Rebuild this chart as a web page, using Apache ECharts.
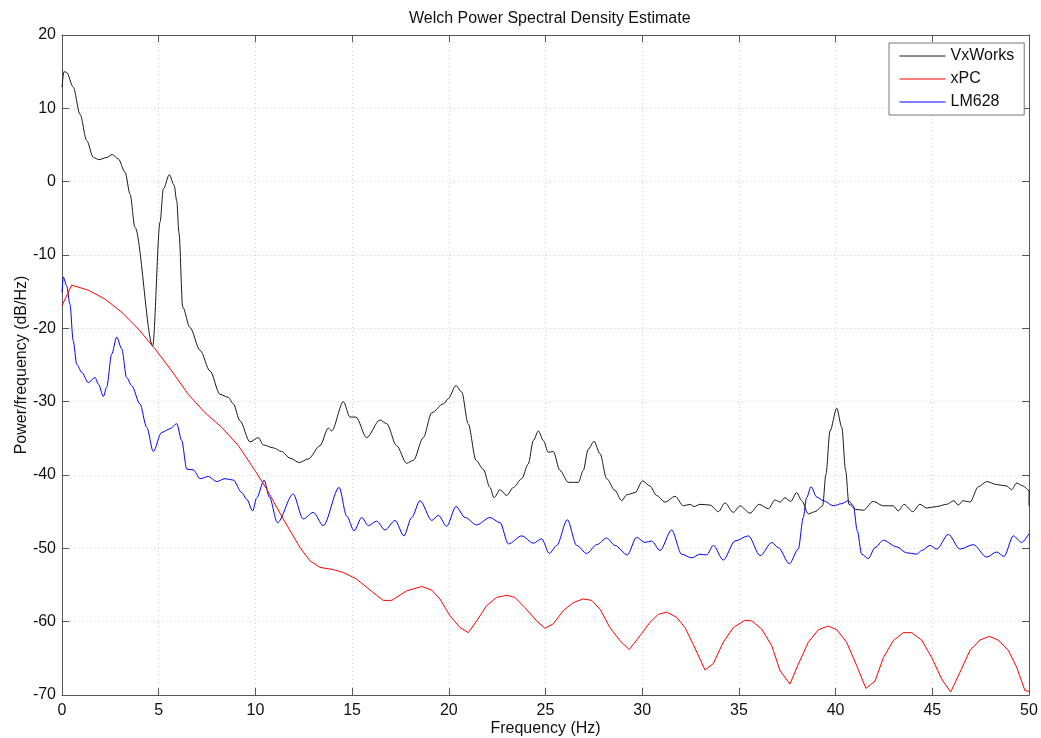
<!DOCTYPE html>
<html>
<head>
<meta charset="utf-8">
<title>Welch Power Spectral Density Estimate</title>
<script src="https://cdn.jsdelivr.net/npm/echarts@6/dist/echarts.min.js"></script>
<style>
  html, body { margin: 0; padding: 0; background: #ffffff; }
  #chart { width: 1041px; height: 738px; }
</style>
</head>
<body>
<div id="chart"></div>
<script>
// Welch PSD estimates (dB/Hz) for three controllers, sampled at the curve's turning points
const vxFreq = [0, 0.1, 0.24, 0.58, 0.93, 1.28, 1.62, 1.91, 2.31, 2.6, 2.91, 3.26, 3.52, 3.77, 4.69, 5.07, 5.24, 5.55, 5.8, 5.93, 6.05, 6.24, 6.62, 7.14, 7.65, 8.17, 8.6, 8.86, 9.2, 9.72, 10.15, 10.41, 10.93, 11.36, 11.79, 12.27, 12.74, 13.34, 13.77, 13.94, 14.55, 14.89, 15.2, 15.75, 16.44, 16.79, 17.3, 17.82, 18.17, 18.68, 19.12, 19.72, 19.97, 20.37, 20.67, 21.0, 21.41, 21.78, 22.13, 22.34, 22.65, 22.99, 23.34, 23.77, 24.11, 24.37, 24.63, 24.89, 25.14, 25.4, 25.75, 26.18, 26.7, 26.95, 27.21, 27.51, 27.82, 28.16, 28.59, 28.94, 29.2, 29.63, 30.02, 30.4, 30.75, 31.18, 31.7, 32.13, 32.47, 32.68, 32.99, 33.51, 33.94, 34.28, 34.71, 35.06, 35.57, 36.05, 36.52, 36.87, 37.13, 37.38, 37.68, 37.99, 38.25, 38.59, 38.94, 39.33, 39.5, 39.71, 40.06, 40.32, 40.52, 40.69, 41.05, 41.43, 41.95, 42.47, 42.98, 43.24, 43.54, 43.99, 44.36, 44.71, 45.23, 45.74, 46.12, 46.34, 46.6, 46.95, 47.38, 47.81, 48.33, 48.85, 49.1, 49.36, 49.7, 50, 50];
const vxPsd = [12.9, 15.0, 14.9, 12.9, 9.2, 5.6, 3.3, 3.0, 3.3, 3.7, 3.1, 1.3, -1.7, -6.2, -22.4, -5.5, -1.0, 0.95, -0.5, -2.6, -7.0, -17.1, -19.9, -23.0, -25.8, -29.0, -29.4, -30.3, -32.6, -35.5, -34.9, -35.9, -36.3, -36.8, -37.7, -38.3, -37.8, -36.0, -33.6, -34.0, -30.0, -32.1, -32.1, -34.9, -32.5, -33.0, -36.0, -38.4, -38.0, -34.9, -31.5, -30.3, -29.6, -27.8, -28.7, -33.0, -38.0, -39.2, -41.7, -43.1, -42.0, -42.8, -41.7, -40.5, -38.5, -35.3, -34.0, -35.3, -36.9, -36.8, -39.4, -41.0, -41.0, -39.4, -36.5, -35.4, -37.1, -40.5, -42.1, -43.5, -42.7, -42.4, -40.8, -41.5, -42.8, -43.7, -42.9, -44.2, -44.0, -44.3, -44.0, -44.1, -45.0, -43.8, -45.1, -44.2, -45.2, -44.0, -44.6, -43.4, -43.7, -43.1, -43.6, -42.4, -43.5, -45.3, -45.0, -44.2, -39.9, -34.0, -30.9, -33.5, -39.4, -44.0, -44.7, -44.8, -43.6, -44.2, -44.2, -44.9, -44.0, -45.0, -44.0, -44.5, -44.3, -44.0, -43.5, -44.1, -43.5, -43.7, -41.6, -40.9, -41.3, -41.5, -42.0, -41.1, -41.5, -42.1, -44.2];

const xpcFreq = [0, 0.5, 1.36, 2.22, 3.09, 3.95, 4.81, 5.67, 6.53, 7.39, 8.26, 9.12, 9.98, 10.58, 11.44, 12.31, 12.82, 13.34, 14.03, 14.55, 15.24, 15.93, 16.61, 17.05, 17.82, 18.6, 19.12, 19.54, 20.06, 20.58, 21.01, 21.44, 21.96, 22.47, 22.99, 23.42, 23.94, 24.54, 24.97, 25.4, 25.92, 26.44, 26.95, 27.39, 27.82, 28.33, 28.85, 29.33, 29.89, 30.4, 30.83, 31.27, 31.78, 32.21, 32.64, 33.25, 33.68, 34.19, 34.71, 35.32, 35.66, 36.18, 36.7, 37.13, 37.64, 38.07, 38.59, 39.11, 39.62, 40.06, 40.57, 41.09, 41.57, 42.04, 42.47, 42.98, 43.5, 43.93, 44.45, 44.97, 45.48, 45.95, 46.43, 46.95, 47.47, 47.95, 48.41, 48.93, 49.36, 49.79, 50];
const xpcPsd = [-16.9, -14.1, -14.8, -16.0, -17.8, -20.1, -22.8, -25.8, -29.0, -31.5, -33.5, -36.0, -39.4, -41.9, -46.0, -49.9, -51.7, -52.6, -52.9, -53.3, -54.2, -55.7, -57.1, -57.1, -55.8, -55.2, -55.7, -56.9, -59.2, -60.8, -61.5, -59.9, -57.8, -56.7, -56.4, -56.7, -58.1, -59.9, -60.9, -60.3, -58.5, -57.4, -56.9, -57.1, -58.3, -60.8, -62.6, -63.8, -61.9, -60.1, -59.0, -58.7, -59.4, -60.8, -63.1, -66.6, -65.7, -62.8, -60.8, -59.8, -59.9, -61.0, -63.3, -66.7, -68.5, -65.8, -62.8, -61.1, -60.6, -61.1, -62.8, -66.0, -69.1, -68.1, -64.9, -62.6, -61.5, -61.5, -62.5, -64.9, -67.8, -69.6, -66.9, -63.9, -62.5, -62.0, -62.5, -63.9, -66.2, -69.4, -69.5];

const lmFreq = [0, 0.07, 0.24, 0.41, 0.58, 0.76, 1.02, 1.36, 1.71, 1.88, 2.14, 2.31, 2.57, 2.83, 3.09, 3.34, 3.6, 4.03, 4.38, 4.72, 5.15, 5.58, 5.93, 6.19, 6.45, 6.79, 7.14, 7.57, 8.0, 8.43, 8.86, 9.29, 9.55, 9.86, 10.07, 10.45, 10.72, 11.14, 11.95, 12.47, 12.99, 13.51, 14.33, 14.72, 15.1, 15.5, 15.84, 16.27, 16.7, 17.22, 17.68, 18.08, 18.51, 19.12, 19.46, 19.89, 20.37, 20.84, 21.44, 22.13, 22.65, 23.08, 23.77, 24.37, 24.8, 25.2, 25.58, 26.13, 26.61, 27.13, 27.65, 28.16, 28.59, 29.23, 29.71, 30.14, 30.49, 30.92, 31.52, 32.04, 32.56, 32.99, 33.33, 33.68, 34.19, 34.8, 35.49, 36.1, 36.7, 37.04, 37.61, 38.07, 38.33, 38.5, 38.73, 39.02, 39.37, 39.88, 40.32, 40.66, 40.92, 41.12, 41.35, 41.69, 42.04, 42.47, 43.16, 43.67, 44.19, 44.45, 44.88, 45.23, 45.83, 46.43, 47.12, 47.81, 48.33, 48.71, 49.19, 49.62, 50];
const lmPsd = [-15.1, -13.0, -14.2, -16.7, -21.7, -24.9, -26.0, -27.4, -26.7, -27.6, -29.3, -28.0, -23.5, -21.2, -22.8, -26.7, -27.8, -30.3, -33.5, -36.8, -34.2, -33.7, -33.0, -35.3, -39.2, -39.3, -40.5, -40.2, -40.9, -40.5, -40.7, -42.4, -43.3, -44.9, -43.1, -40.7, -43.0, -46.5, -42.6, -46.0, -45.1, -46.9, -41.7, -45.6, -47.6, -45.8, -46.9, -46.3, -47.5, -46.2, -48.3, -45.8, -43.5, -46.2, -45.5, -47.0, -44.3, -45.8, -46.8, -45.8, -46.5, -49.4, -48.3, -49.3, -48.7, -50.7, -49.6, -46.1, -49.6, -50.7, -49.5, -48.6, -49.6, -50.9, -48.5, -49.2, -49.0, -50.3, -47.5, -50.8, -51.3, -50.8, -50.9, -49.6, -51.6, -49.0, -48.3, -51.0, -49.2, -49.9, -52.1, -50.1, -45.8, -43.1, -41.6, -43.0, -43.5, -44.2, -43.9, -43.5, -44.2, -47.6, -50.8, -51.4, -49.9, -48.9, -49.8, -50.6, -50.8, -50.3, -49.6, -50.1, -48.1, -50.1, -49.5, -51.2, -50.5, -51.1, -48.3, -49.2, -48.0];

const seriesNames = ['VxWorks', 'xPC', 'LM628'];
const seriesColors = ['#1a1a1a', '#ff0000', '#0000ff'];

const zip = (xs, ys) => xs.map((x, i) => [x, ys[i]]);

const FONT = '"Liberation Sans", Arial, Helvetica, sans-serif';
const axisGray = '#555555';
const gridDots = { show: true, lineStyle: { color: '#d2d2d2', type: [1, 3], width: 1 } };

const chart = echarts.init(document.getElementById('chart'), null, { renderer: 'canvas' });

const xBase = {
  type: 'value', min: 0, max: 50, interval: 5,
  axisLine: { show: true, onZero: false, lineStyle: { color: axisGray, width: 1 } },
  axisTick: { show: true, inside: true, length: 7, lineStyle: { color: axisGray } }
};
const yBase = {
  type: 'value', min: -70, max: 20, interval: 10,
  axisLine: { show: true, onZero: false, lineStyle: { color: axisGray, width: 1 } },
  axisTick: { show: true, inside: true, length: 7, lineStyle: { color: axisGray } }
};

chart.setOption({
  animation: false,
  backgroundColor: '#ffffff',
  textStyle: { fontFamily: FONT },
  title: {
    text: 'Welch Power Spectral Density Estimate',
    // centred over the plot box rather than the canvas
    left: 404,
    top: 6,
    textStyle: { fontFamily: FONT, fontSize: 16, fontWeight: 'normal', color: '#111' }
  },
  grid: { left: 62, right: 12, top: 35, bottom: 43, containLabel: false, outerBoundsMode: 'none' },
  legend: {
    orient: 'vertical',
    left: 889,
    top: 43,
    padding: [5, 10, 5, 10],
    itemWidth: 46,
    itemHeight: 14,
    itemGap: 7,
    // plain thin line samples, no marker on top
    itemStyle: { opacity: 0 },
    lineStyle: { width: 1 },
    backgroundColor: '#ffffff',
    borderColor: '#777777',
    borderWidth: 1,
    textStyle: { fontFamily: FONT, fontSize: 16, color: '#111' },
    data: seriesNames
  },
  xAxis: [
    Object.assign({}, xBase, {
      position: 'bottom',
      name: 'Frequency (Hz)',
      nameLocation: 'middle',
      nameGap: 26,
      nameMoveOverlap: false,
      nameTextStyle: { fontFamily: FONT, fontSize: 16, color: '#111' },
      axisLabel: { margin: 8, fontFamily: FONT, fontSize: 16, color: '#111' },
      splitLine: gridDots
    }),
    Object.assign({}, xBase, {
      position: 'top',
      axisLabel: { show: false },
      splitLine: { show: false }
    })
  ],
  yAxis: [
    Object.assign({}, yBase, {
      position: 'left',
      name: 'Power/frequency (dB/Hz)',
      nameLocation: 'middle',
      nameGap: 32,
      nameMoveOverlap: false,
      nameTextStyle: { fontFamily: FONT, fontSize: 16, color: '#111' },
      axisLabel: { margin: 6, fontFamily: FONT, fontSize: 16, color: '#111' },
      splitLine: gridDots
    }),
    Object.assign({}, yBase, {
      position: 'right',
      axisLabel: { show: false },
      splitLine: { show: false }
    })
  ],
  series: [
    { name: seriesNames[0], data: zip(vxFreq, vxPsd) },
    { name: seriesNames[1], data: zip(xpcFreq, xpcPsd), smooth: false },
    { name: seriesNames[2], data: zip(lmFreq, lmPsd) }
  ].map((s, i) => Object.assign({
    type: 'line',
    xAxisIndex: 0,
    yAxisIndex: 0,
    symbol: 'none',
    showSymbol: false,
    smooth: 0.3,
    smoothMonotone: 'x',
    color: seriesColors[i],
    lineStyle: { color: seriesColors[i], width: 1 },
    emphasis: { disabled: true },
    z: 3 - i
  }, s))
});
</script>
</body>
</html>
